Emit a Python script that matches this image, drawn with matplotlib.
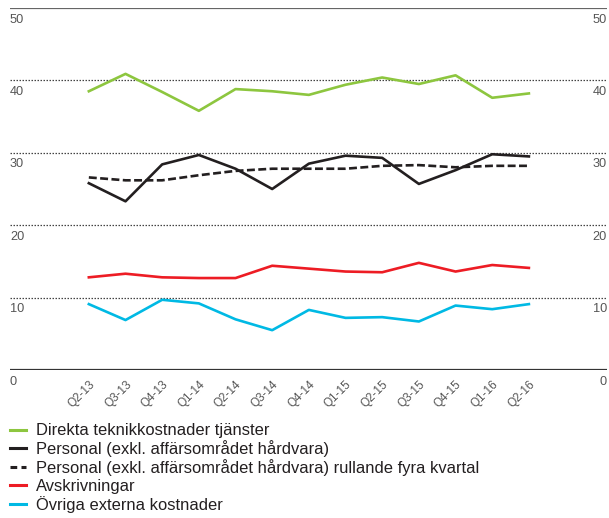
import matplotlib
matplotlib.use("Agg")
from matplotlib import pyplot as plt
from matplotlib.lines import Line2D
from matplotlib.transforms import blended_transform_factory

plt.rcParams["font.family"] = ["Liberation Sans", "DejaVu Sans"]

quarters = ["Q2-13", "Q3-13", "Q4-13", "Q1-14", "Q2-14", "Q3-14", "Q4-14",
            "Q1-15", "Q2-15", "Q3-15", "Q4-15", "Q1-16", "Q2-16"]

direkta = [38.5, 40.9, 38.4, 35.8, 38.8, 38.5, 38.0, 39.4, 40.4, 39.5, 40.7, 37.6, 38.2]
personal = [25.8, 23.3, 28.4, 29.7, 27.8, 25.0, 28.5, 29.6, 29.3, 25.7, 27.6, 29.8, 29.5]
personal_rull = [26.6, 26.2, 26.2, 26.9, 27.5, 27.8, 27.8, 27.8, 28.2, 28.3, 28.0, 28.2, 28.2]
avskrivningar = [12.8, 13.3, 12.8, 12.7, 12.7, 14.4, 14.0, 13.6, 13.5, 14.8, 13.6, 14.5, 14.1]
ovriga = [9.1, 6.9, 9.7, 9.2, 7.0, 5.5, 8.3, 7.2, 7.3, 6.7, 8.9, 8.4, 9.1]

labels = [
    "Direkta teknikkostnader tjänster",
    "Personal (exkl. affärsområdet hårdvara)",
    "Personal (exkl. affärsområdet hårdvara) rullande fyra kvartal",
    "Avskrivningar",
    "Övriga externa kostnader",
]
y_ticks = [0, 10, 20, 30, 40, 50]

fig = plt.figure(figsize=(6.09, 5.18), dpi=100)
W, H = 609, 518
ax = fig.add_axes([10 / W, 1 - 370 / H, 597 / W, 362 / H])

x = list(range(len(quarters)))
lw = 1.9
lines = [
    ax.plot(x, direkta, color="#8DC63F", lw=lw)[0],
    ax.plot(x, personal, color="#231F20", lw=lw)[0],
    ax.plot(x, personal_rull, color="#231F20", lw=lw, dashes=(3, 1.3))[0],
    ax.plot(x, avskrivningar, color="#ED1C24", lw=lw)[0],
    ax.plot(x, ovriga, color="#00B9E4", lw=lw)[0],
]

ax.set_xlim(-2.15, 14.13)
ax.set_ylim(0, 50)

# gridlines
for v in y_ticks[1:-1]:
    ax.axhline(v, color="#444444", lw=0.9, ls=(0, (1.2, 1.2)), zorder=0)
ax.axhline(50, color="#666666", lw=1.6, zorder=0)
ax.axhline(0, color="#333333", lw=1.6, zorder=0)

for s in ax.spines.values():
    s.set_visible(False)
ax.set_yticks([])
ax.tick_params(axis="x", length=0, pad=6)
ax.set_xticks(x)
ax.set_xticklabels(quarters, rotation=45, ha="right", va="top",
                   rotation_mode="anchor", fontsize=8.5, color="#555555")
ax.patch.set_visible(False)

# y labels on both sides, just below each line
trans = blended_transform_factory(ax.transAxes, ax.transData)
for v in y_ticks:
    ax.text(0, v - 2.03, str(v), transform=trans, ha="left", va="baseline",
            fontsize=9.2, color="#555555")
    ax.text(1, v - 2.03, str(v), transform=trans, ha="right", va="baseline",
            fontsize=9.2, color="#555555")

# legend drawn by hand so rows are evenly spaced
for i, (line, lab) in enumerate(zip(lines, labels)):
    yy = 429.5 + i * 18.6
    fig.add_artist(Line2D([9.5 / W, 25.5 / W], [1 - yy / H, 1 - yy / H],
                          color=line.get_color(), lw=2.2,
                          ls=line.get_linestyle(),
                          dashes=(2.2, 1.4) if i == 2 else (None, None)))
    fig.text(36 / W, 1 - (yy + 6) / H, lab, fontsize=11.9, color="#231F20",
             ha="left", va="baseline")

fig.savefig("out.png", dpi=100)
